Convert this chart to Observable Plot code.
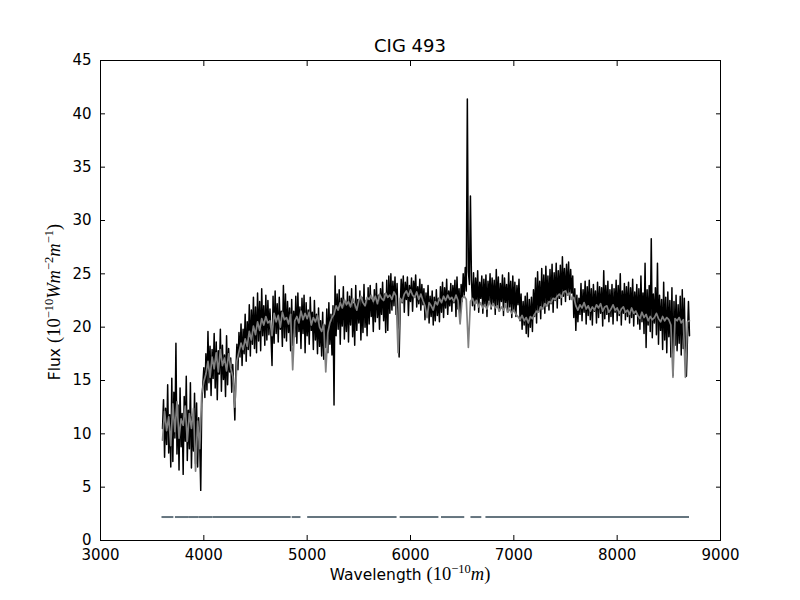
<!DOCTYPE html>
<html>
<head>
<meta charset="utf-8">
<script src="https://cdn.jsdelivr.net/npm/d3@7"></script>
<script src="https://cdn.jsdelivr.net/npm/@observablehq/plot@0.6"></script>
<style>
  html, body { margin: 0; padding: 0; background: white; }
  #wrap { width: 800px; height: 600px; position: relative; font-family: "DejaVu Sans", sans-serif; }
  #title { position: absolute; top: 37px; left: 100px; width: 620px; text-align: center; font-size: 18px; line-height: 18px; color: black; }
</style>
</head>
<body>
<div id="wrap">
  <div id="title">CIG 493</div>
  <div id="chart"></div>
</div>
<script>
// ---- data ----
const titleText = "CIG 493";
const xTicks = [3000, 4000, 5000, 6000, 7000, 8000, 9000];
const yTicks = [0, 5, 10, 15, 20, 25, 30, 35, 40, 45];

// observed spectrum (black): wavelength grid start/step, flux values (1e-10 W m^-2 m^-1)
const blackStart = 3600;
const blackStep = 10;
const blackFlux = [
  10.5, 13.2, 7.8, 12.4, 9.0, 14.6, 8.2, 11.8, 6.9, 15.2,
  7.4, 13.9, 9.6, 18.5, 8.1, 12.7, 6.6, 14.3, 8.8, 11.9,
  6.2, 13.5, 9.3, 15.4, 7.5, 12.2, 8.6, 14.8, 6.8, 11.6,
  8.4, 13.8, 7.2, 12.9, 6.9, 11.5, 9.2, 4.7, 12.8, 14.6,
  16.2, 13.4, 17.5, 14.1, 19.6, 14.8, 18.2, 13.6, 17.9, 15.2,
  19.4, 14.3, 18.6, 13.2, 17.8, 15.6, 19.8, 14.0, 18.3, 15.1,
  17.4, 13.5, 19.2, 14.6, 18.0, 15.8, 17.1, 13.9, 16.5, 14.2,
  11.3, 15.9, 18.4, 16.0, 19.5, 17.2, 20.3, 16.4, 19.8, 17.5,
  21.2, 16.8, 20.5, 17.9, 22.1, 17.3, 21.6, 18.4, 22.8, 18.0,
  21.9, 17.6, 23.2, 18.7, 22.4, 17.8, 23.6, 19.2, 22.0, 18.3,
  23.0, 18.8, 22.5, 19.3, 21.7, 19.1, 16.4, 22.9, 18.5, 23.4,
  19.4, 22.2, 18.6, 22.8, 19.8, 21.5, 18.2, 23.9, 19.0, 23.1,
  18.7, 22.4, 19.5, 21.8, 17.8, 22.6, 18.3, 21.5, 19.1, 22.9,
  18.5, 23.2, 19.6, 21.9, 18.0, 22.7, 19.4, 23.0, 17.6, 22.3,
  19.2, 21.6, 18.4, 22.8, 19.7, 21.4, 17.9, 22.5, 18.8, 21.2,
  17.5, 21.8, 18.2, 20.6, 17.3, 21.4, 17.0, 20.2, 18.1, 21.7,
  17.6, 22.3, 18.4, 21.2, 17.4, 22.0, 12.7, 24.8, 19.2, 23.1,
  19.8, 23.5, 18.4, 22.7, 20.1, 23.8, 18.9, 22.4, 19.6, 23.3,
  18.6, 22.9, 20.2, 23.6, 19.1, 22.2, 18.3, 23.9, 19.7, 22.6,
  20.4, 23.4, 18.8, 22.8, 19.5, 24.0, 20.0, 22.5, 19.2, 23.7,
  20.3, 23.9, 21.0, 22.6, 19.6, 23.5, 20.5, 24.1, 20.9, 23.0,
  19.8, 23.6, 21.2, 24.2, 20.6, 23.1, 19.5, 24.4, 19.7, 24.8,
  21.3, 25.0, 21.6, 24.3, 22.0, 24.7, 21.2, 24.1, 20.8, 17.2,
  21.8, 24.5, 22.3, 24.8, 21.4, 24.2, 22.6, 24.7, 21.1, 23.9,
  22.4, 24.6, 21.5, 24.3, 22.8, 24.9, 21.9, 23.8, 22.2, 24.5,
  21.6, 24.0, 22.1, 23.6, 20.7, 23.2, 21.3, 23.9, 20.4, 22.9,
  21.0, 23.4, 20.2, 22.8, 20.6, 23.5, 21.1, 22.7, 20.5, 23.8,
  21.4, 24.2, 20.9, 23.7, 21.8, 24.5, 21.2, 23.4, 22.0, 24.1,
  21.5, 23.9, 22.3, 24.4, 21.0, 24.7, 21.7, 23.6, 20.8, 24.0,
  22.4, 25.0, 23.0, 25.6, 23.4, 41.4, 25.2, 24.0, 32.3, 24.4,
  22.0, 25.1, 21.6, 24.6, 22.3, 25.3, 21.4, 24.2, 22.7, 24.8,
  21.3, 24.5, 22.1, 24.9, 21.0, 24.3, 22.5, 25.0, 21.7, 24.6,
  22.2, 24.4, 21.2, 25.4, 22.0, 24.7, 21.5, 24.1, 22.4, 24.9,
  21.1, 24.6, 22.3, 24.0, 21.4, 25.1, 21.9, 24.3, 20.9, 24.8,
  21.6, 24.2, 21.0, 23.9, 22.1, 24.5, 20.6, 23.1, 19.8, 22.4,
  20.2, 22.9, 19.4, 23.2, 19.1, 22.6, 20.0, 22.8, 19.6, 23.5,
  21.0, 24.6, 20.4, 25.2, 21.5, 24.3, 20.8, 25.5, 21.8, 24.9,
  21.3, 25.7, 22.0, 24.8, 21.6, 25.4, 22.2, 25.9, 21.4, 25.1,
  22.5, 26.0, 21.8, 25.3, 22.7, 25.8, 22.1, 26.6, 22.9, 25.5,
  22.4, 25.9, 23.0, 26.1, 22.6, 25.4, 23.2, 24.8, 20.9, 23.6,
  19.7, 23.0, 20.5, 22.7, 21.2, 24.1, 20.6, 23.5, 21.4, 24.3,
  20.3, 23.8, 21.1, 24.4, 20.7, 23.6, 20.2, 24.0, 21.5, 23.4,
  20.4, 24.2, 20.9, 23.8, 21.3, 23.7, 20.1, 25.3, 20.8, 23.9,
  21.2, 24.3, 20.5, 23.5, 21.0, 24.0, 20.3, 23.6, 21.4, 24.4,
  20.6, 23.9, 21.1, 25.0, 20.2, 23.4, 21.3, 24.1, 20.7, 23.8,
  21.0, 24.2, 20.4, 23.7, 20.9, 24.5, 20.1, 23.3, 21.2, 24.0,
  20.3, 23.6, 19.8, 24.8, 20.5, 23.2, 19.4, 26.0, 18.1, 23.5,
  20.2, 23.9, 19.6, 28.3, 19.0, 23.1, 20.4, 23.7, 19.3, 26.0,
  18.4, 23.0, 19.7, 22.6, 17.9, 24.2, 18.8, 22.8, 17.6, 23.3,
  19.1, 22.5, 17.2, 23.7, 15.5, 22.4, 18.3, 23.0, 17.8, 22.1,
  18.5, 22.9, 17.4, 23.5, 18.0, 22.7, 17.6, 15.4, 18.9, 22.4,
  19.2
];

// model spectrum (grey)
const grayStart = 3600;
const grayStep = 20;
const grayFlux = [
  9.4, 12.1, 10.3, 11.6, 8.9, 12.8, 10.2, 13.0, 9.6, 11.4,
  10.8, 12.6, 9.3, 11.9, 10.5, 12.4, 6.5, 11.2, 8.6, 13.8,
  14.9, 15.6, 16.8, 15.3, 17.2, 16.1, 17.6, 15.8, 17.9, 16.4,
  17.1, 15.9, 17.5, 16.2, 15.4, 12.5, 16.8, 17.7, 18.5, 17.9,
  18.9, 18.2, 19.6, 18.8, 20.1, 19.3, 20.5, 19.7, 20.8, 20.2,
  21.0, 20.4, 20.6, 19.2, 21.3, 20.5, 21.1, 20.0, 21.4, 20.7,
  20.9, 20.3, 21.2, 16.0, 20.6, 21.0, 20.4, 21.5, 20.7, 21.3,
  20.8, 21.4, 20.2, 20.9, 20.5, 21.1, 20.0, 19.6, 20.3, 15.8,
  19.5, 20.4, 20.9, 21.2, 22.0, 21.6, 22.3, 21.8, 22.6, 22.1,
  22.4, 21.9, 22.7, 22.2, 21.6, 22.5, 22.9, 22.3, 22.0, 22.8,
  22.6, 23.0, 22.4, 22.9, 22.2, 23.1, 22.7, 22.5, 23.2, 22.8,
  23.0, 22.6, 23.3, 22.9, 17.6, 22.7, 22.4, 23.1, 23.4, 22.9,
  23.5, 23.0, 22.8, 23.3, 22.6, 23.1, 22.5, 22.0, 20.9, 22.3,
  22.0, 21.6, 22.4, 22.1, 22.7, 22.3, 22.9, 22.5, 23.0, 22.6,
  22.8, 22.4, 23.0, 22.5, 20.3, 22.7, 22.9, 22.6, 18.1, 22.4,
  22.7, 22.2, 22.5, 21.9, 22.3, 21.8, 22.1, 21.7, 22.4, 21.9,
  22.2, 21.8, 22.0, 21.5, 21.9, 21.6, 22.1, 21.4, 21.7, 21.3,
  21.6, 21.2, 21.0, 20.7, 21.1, 20.6, 20.9, 20.4, 21.0, 20.8,
  21.2, 21.5, 21.4, 21.9, 21.7, 22.2, 22.0, 22.4, 22.3, 22.7,
  22.6, 22.9, 23.1, 22.8, 23.3, 23.4, 23.0, 23.2, 22.6, 22.8,
  22.0, 21.6, 22.1, 21.8, 22.3, 21.7, 22.0, 21.5, 21.9, 21.6,
  22.1, 21.8, 22.2, 21.5, 21.9, 22.0, 21.4, 21.7, 22.1, 21.6,
  21.8, 21.3, 21.7, 21.9, 21.4, 21.6, 21.2, 21.8, 21.3, 21.5,
  21.1, 20.8, 21.4, 20.9, 21.2, 20.6, 21.0, 20.7, 20.9, 21.3,
  20.8, 20.5, 21.0, 20.6, 20.9, 20.7, 20.2, 15.3, 20.8, 20.6,
  20.9, 20.4, 20.7, 15.3, 20.5,
  20.6
];

// fitted-region segments near the bottom
const segStart = [3595, 3725, 3860, 3955, 4090, 4855, 5005, 5900, 6300, 6585, 6730];
const segEnd   = [3710, 3860, 3955, 4090, 4845, 4940, 5870, 6275, 6525, 6690, 8700];
const segLevel = 2.2;

// ---- build tables ----
const black = blackFlux.map((f, i) => ({w: blackStart + i * blackStep, f}));
const gray = grayFlux.map((f, i) => ({w: grayStart + i * grayStep, f}));
const segments = segStart.map((s, i) => ({x1: s, x2: segEnd[i], y: segLevel}));

const chart = Plot.plot({
  width: 800,
  height: 600,
  marginTop: 60,
  marginBottom: 60,
  marginLeft: 100,
  marginRight: 80,
  style: {fontFamily: "DejaVu Sans", fontSize: "15px", color: "black", background: "white"},
  x: {domain: [3000, 9000]},
  y: {domain: [0, 45]},
  marks: [
    Plot.ruleY(segments, {x1: "x1", x2: "x2", y: "y", stroke: "#65757f", strokeWidth: 2}),
    Plot.lineY(black, {x: "w", y: "f", stroke: "black", strokeWidth: 1.5}),
    Plot.lineY(gray, {x: "w", y: "f", stroke: "#808080", strokeWidth: 1.7}),
    Plot.frame({stroke: "black", strokeWidth: 1}),
    Plot.axisX(xTicks, {anchor: "bottom", tickSize: -5, tickPadding: 13.5, label: null, tickFormat: d => String(d)}),
    Plot.axisX(xTicks, {anchor: "top", tickSize: -5, label: null, tickFormat: () => ""}),
    Plot.axisY(yTicks, {anchor: "left", tickSize: -5, tickPadding: 14, label: null, tickFormat: d => String(d)}),
    Plot.axisY(yTicks, {anchor: "right", tickSize: -5, label: null, tickFormat: () => ""})
  ]
});
document.getElementById("chart").appendChild(chart);

// axis labels with mathtext-like pieces
const svg = d3.select(chart);
function addLabel(g, parts) {
  const t = g.append("text").attr("fill", "black").attr("font-family", "DejaVu Sans").attr("font-size", 15.5);
  let shift = 0;
  for (const p of parts) {
    const s = t.append("tspan").text(p.t);
    const target = p.sup ? -7 : 0;
    if (target !== shift) { s.attr("dy", target - shift); shift = target; }
    if (p.math) s.attr("font-family", "Liberation Serif").attr("font-size", p.sup ? 12.5 : 18.5);
    if (p.it) s.attr("font-style", "italic");
  }
  return t;
}
const xLab = svg.append("g").attr("transform", "translate(410,580)");
addLabel(xLab, [
  {t: "Wavelength "},
  {t: "(10", math: true},
  {t: "\u221210", math: true, sup: true},
  {t: "m", math: true, it: true},
  {t: ")", math: true}
]).attr("text-anchor", "middle");

const yLab = svg.append("g").attr("transform", "translate(60,302) rotate(-90)");
addLabel(yLab, [
  {t: "Flux "},
  {t: "(10", math: true},
  {t: "\u221210", math: true, sup: true},
  {t: "W", math: true, it: true},
  {t: "m", math: true, it: true},
  {t: "\u22122", math: true, sup: true},
  {t: "m", math: true, it: true},
  {t: "\u22121", math: true, sup: true},
  {t: ")", math: true}
]).attr("text-anchor", "middle");
</script>
</body>
</html>
